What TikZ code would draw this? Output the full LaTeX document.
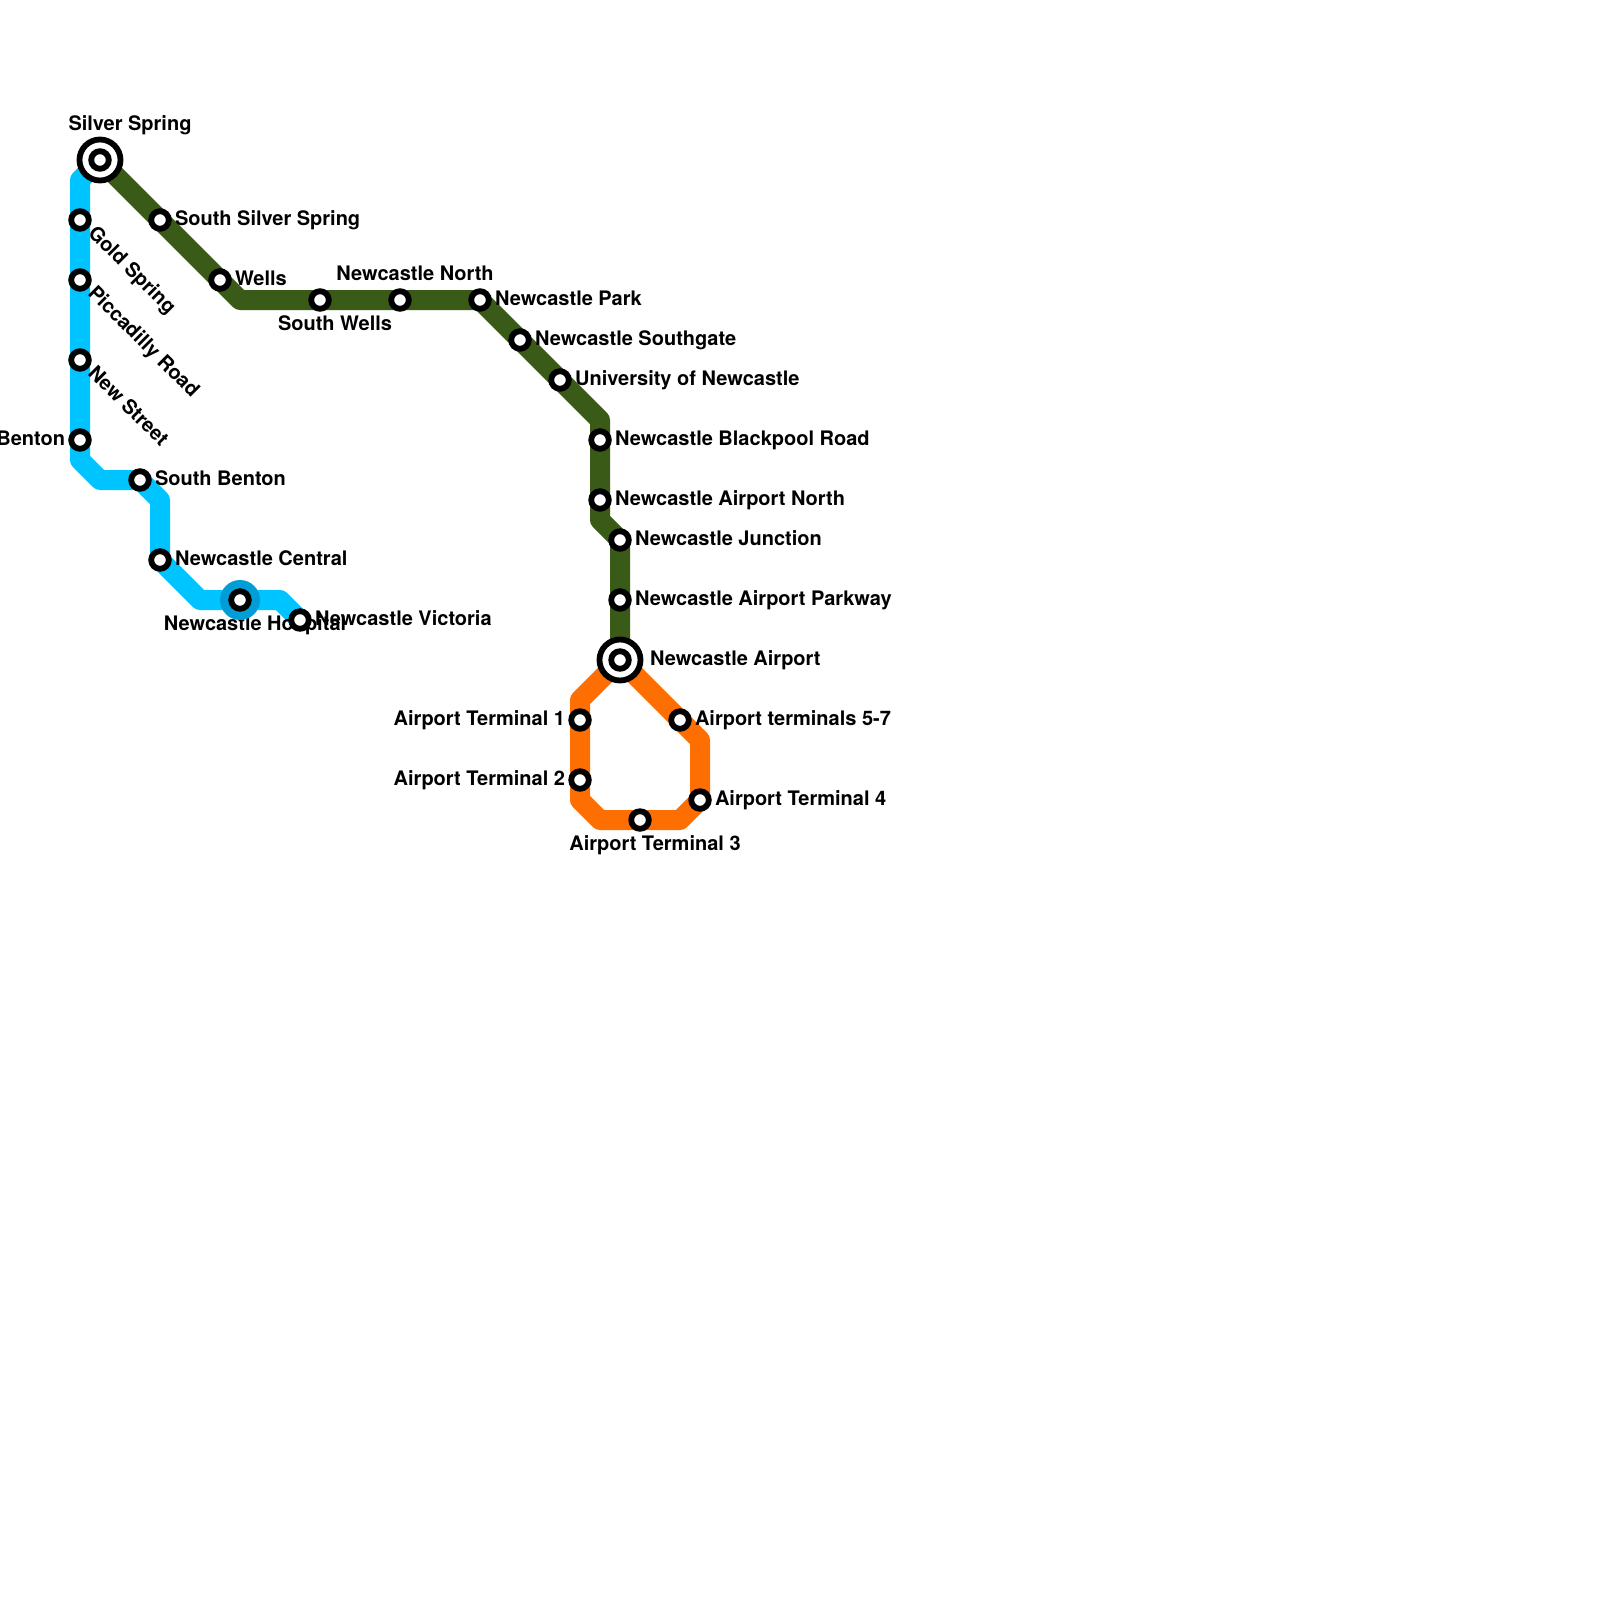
\documentclass[tikz,border=0pt]{standalone}
\usepackage{fontspec}
\setmainfont{TeX Gyre Heros}
\definecolor{lcyan}{HTML}{00C4FF}
\definecolor{lgreen}{HTML}{3A5A18}
\definecolor{lorange}{HTML}{FF6E00}
\definecolor{ihub}{HTML}{009DD6}
\tikzset{
  metro/.style={line width=20pt,line join=round,line cap=butt},
  stn/.style={circle,draw=black,fill=white,line width=5.8pt,minimum size=17.6pt,inner sep=0pt,outer sep=0pt},
  term/.style={circle,draw=black,fill=white,line width=5.8pt,minimum size=41pt,inner sep=0pt,outer sep=0pt},
  hub/.style={circle,fill=ihub,minimum size=40pt,inner sep=0pt,outer sep=0pt},
  lab/.style={inner sep=0pt,outer sep=0pt,font=\fontsize{20}{20}\selectfont\bfseries,text=black},
  labr/.style={lab,anchor=base west},
  labl/.style={lab,anchor=base east},
  labc/.style={lab,anchor=base},
  labd/.style={lab,anchor=base west,rotate=-45},
}
\begin{document}
\begin{tikzpicture}[x=1pt,y=-1pt]
\useasboundingbox (0,0) rectangle (1600,1600);
% bends
\coordinate (c1) at (80,180);
\coordinate (c2) at (80,460);
\coordinate (c3) at (100,480);
\coordinate (c4) at (140,480);
\coordinate (c5) at (160,500);
\coordinate (c6) at (200,600);
\coordinate (c7) at (280,600);
\coordinate (g1) at (240,300);
\coordinate (g2) at (600,420);
\coordinate (g3) at (600,520);
\coordinate (o1) at (580,700);
\coordinate (o2) at (580,800);
\coordinate (o3) at (600,820);
\coordinate (o4) at (680,820);
\coordinate (o5) at (700,740);
% interchange and terminal positions
\coordinate (ss) at (100,160);
\coordinate (na) at (620,660);
\coordinate (sv) at (300,620);
\coordinate (cn) at (160,560);
\coordinate (t4) at (700,800);
% lines
\draw[metro,lcyan] (ss) -- (c1) -- (c2) -- (c3) -- (c4) -- (c5) -- (cn) -- (c6) -- (c7) -- (sv);
\draw[metro,lgreen] (ss) -- (g1) -- (480,300) -- (g2) -- (g3) -- (620,540) -- (na);
\draw[metro,lorange] (na) -- (o1) -- (o2) -- (o3) -- (o4) -- (t4) -- (o5) -- cycle;
% labels
\node[labc] (lss) at (130,131) {Silver Spring};
\node[labd] (l1) at (87,234) {Gold Spring};
\node[labd] (l2) at (87,294) {Piccadilly Road};
\node[labd] (l3) at (87,374) {New Street};
\node[labl] (l4) at (65,445) {Benton};
\node[labr] (l5) at (155,485) {South Benton};
\node[labr] (l6) at (175,565) {Newcastle Central};
\node[labc] (l7) at (255,630) {Newcastle Hospital};
\node[labr] (l8) at (315,625) {Newcastle Victoria};
\node[labr] (l9) at (175,225) {South Silver Spring};
\node[labr] (l10) at (235,285) {Wells};
\node[labc] (l11) at (335,330) {South Wells};
\node[labc] (l12) at (415,280.5) {Newcastle North};
\node[labr] (l13) at (495,305) {Newcastle Park};
\node[labr] (l14) at (535,345) {Newcastle Southgate};
\node[labr] (l15) at (575,385) {University of Newcastle};
\node[labr] (l16) at (615,445) {Newcastle Blackpool Road};
\node[labr] (l17) at (615,505) {Newcastle Airport North};
\node[labr] (l18) at (635,545) {Newcastle Junction};
\node[labr] (l19) at (635,605) {Newcastle Airport Parkway};
\node[labr] (l20) at (650,665) {Newcastle Airport};
\node[labl] (l21) at (565,725) {Airport Terminal 1};
\node[labl] (l22) at (565,785) {Airport Terminal 2};
\node[labc] (l23) at (655,850) {Airport Terminal 3};
\node[labr] (l24) at (715,805) {Airport Terminal 4};
\node[labr] (l25) at (695,725) {Airport terminals 5-7};
% stations
\node[term] (sst) at (ss) {};
\node[term] (nat) at (na) {};
\node[hub] (hh) at (240,600) {};
\foreach \n/\x/\y in {s1/100/160,s2/80/220,s3/80/280,s4/80/360,s5/80/440,s6/140/480,s7/160/560,s8/240/600,s9/300/620,
  s10/160/220,s11/220/280,s12/320/300,s13/400/300,s14/480/300,s15/520/340,s16/560/380,s17/600/440,s18/600/500,s19/620/540,s20/620/600,s21/620/660,
  s22/580/720,s23/580/780,s24/640/820,s25/700/800,s26/680/720}
  \node[stn] (\n) at (\x,\y) {};
\end{tikzpicture}
\end{document}
